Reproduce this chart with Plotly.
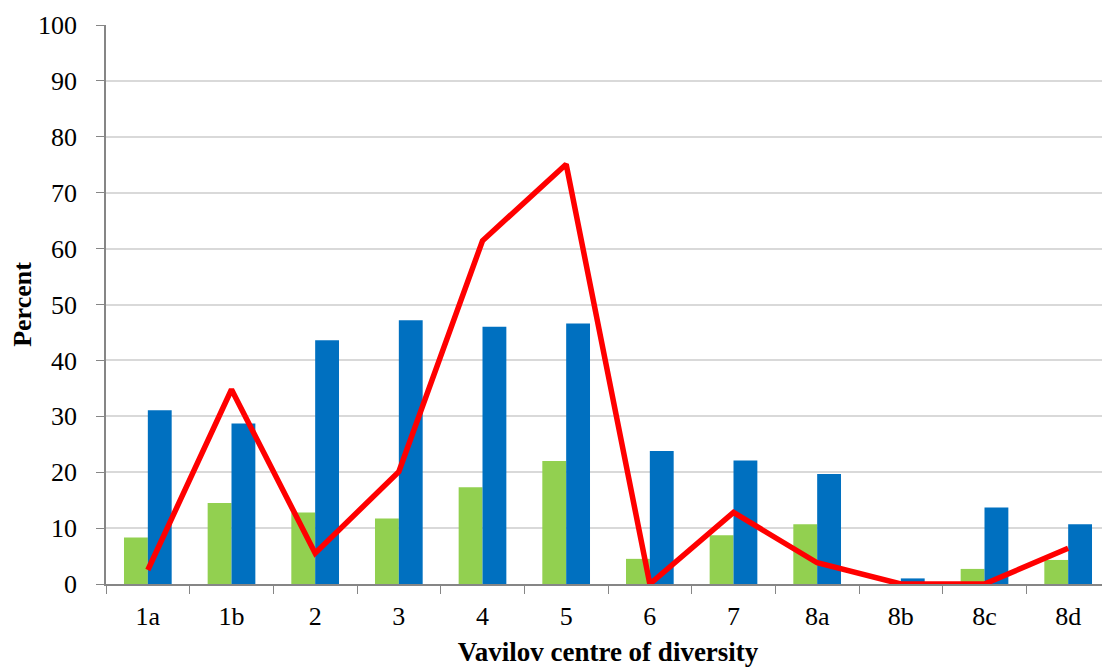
import plotly.graph_objects as go

categories = ["1a", "1b", "2", "3", "4", "5", "6", "7", "8a", "8b", "8c", "8d"]
green_vals = [8.3, 14.5, 12.8, 11.7, 17.3, 22.0, 4.5, 8.7, 10.7, 0, 2.7, 4.3]
blue_vals = [31.1, 28.7, 43.6, 47.2, 46.0, 46.6, 23.8, 22.1, 19.7, 1.0, 13.7, 10.7]
red_vals = [2.5, 34.8, 5.5, 20.1, 61.4, 75.1, 0, 12.8, 3.8, 0, 0, 6.4]

font_family = "Liberation Serif, Times New Roman, serif"

fig = go.Figure()
fig.add_trace(go.Bar(x=categories, y=green_vals, marker=dict(color="#92D050", line=dict(width=0))))
fig.add_trace(go.Bar(x=categories, y=blue_vals, marker=dict(color="#0070C0", line=dict(width=0))))
fig.add_trace(go.Scatter(x=categories, y=red_vals, mode="lines",
                         line=dict(color="#FF0000", width=5.5), cliponaxis=False))

fig.update_layout(
    width=1102, height=661,
    margin=dict(l=98, r=0, t=17, b=85, autoexpand=False),
    paper_bgcolor="white", plot_bgcolor="white",
    showlegend=False,
    barmode="group", bargap=0.43, bargroupgap=0,
    font=dict(family=font_family, size=26, color="black"),
)
fig.update_xaxes(
    type="category", tickson="boundaries", ticks="outside", ticklen=8,
    tickcolor="#868686", showline=True, linecolor="#868686", linewidth=1.5,
    showgrid=False, ticklabelstandoff=8,
    title=dict(text="<b>Vavilov centre of diversity</b>", font=dict(size=27), standoff=12),
    tickfont=dict(size=26),
)
fig.update_yaxes(
    range=[0, 100], dtick=10, ticks="outside", ticklen=8, tickcolor="#868686",
    showline=True, linecolor="#868686", linewidth=1.5,
    showgrid=True, gridcolor="#D9D9D9", gridwidth=1.5, zeroline=False,
    ticklabelstandoff=14,
    title=dict(text="<b>Percent</b>", font=dict(size=26), standoff=20),
    tickfont=dict(size=26),
)

fig.write_html("out.html")
